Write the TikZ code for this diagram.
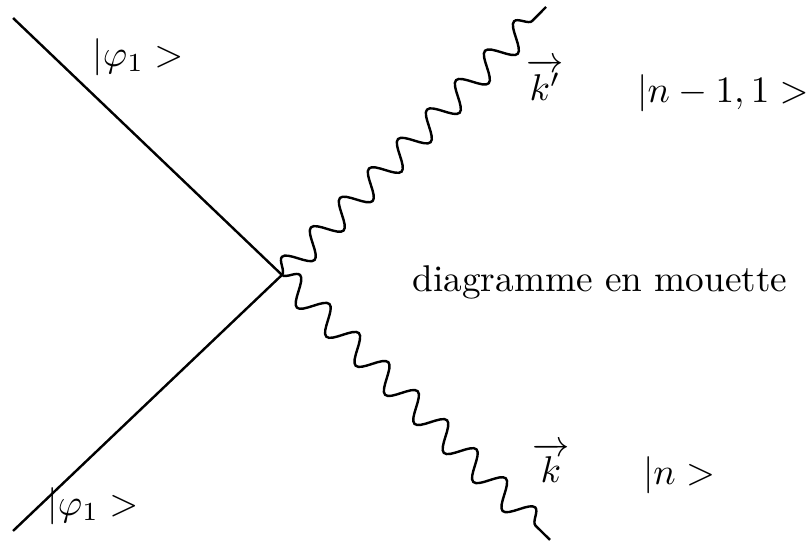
\documentclass[tikz,border=0pt]{standalone}
\usepackage{amsmath,amssymb}
\usetikzlibrary{decorations.pathmorphing}
\tikzset{
  ferm/.style={black, line width=0.65pt},
  phot/.style={black, line width=0.65pt, decorate, decoration={snake,
      segment length=3.9mm, amplitude=1.2mm}},
  lbl/.style={font=\normalsize, inner sep=1pt},
}
\begin{document}
\begin{tikzpicture}
        \useasboundingbox (0,0) rectangle (7.623,5.151);
        % vertex and ends
        \coordinate (v) at (2.660,2.557);
        \coordinate (inA) at (0.123,4.981);
        \coordinate (inB) at (0.123,0.142);
        \coordinate (kp) at (5.151,5.085);
        \coordinate (k) at (5.189,0.057);
        \draw[ferm] (inA) -- (v);
        \draw[ferm] (inB) -- (v);
        \draw[phot] (v) -- (kp);
        \draw[phot] (v) -- (k);
        % labels
        \node[lbl] (phiA) at (1.302,4.613) {$|\varphi_1>$};
        \node[lbl] (phiB) at (0.877,0.377) {$|\varphi_1>$};
        \node[lbl] (vkp) at (5.142,4.396) {$\overrightarrow{k'}$};
        \node[lbl] (vk) at (5.198,0.783) {$\overrightarrow{k}$};
        \node[lbl] (stA) at (6.821,4.274) {$|n-1,1>$};
        \node[lbl] (stB) at (6.406,0.670) {$|n>$};
        \node[lbl] (ttl) at (5.660,2.491) {diagramme en mouette};
      \end{tikzpicture}
\end{document}
